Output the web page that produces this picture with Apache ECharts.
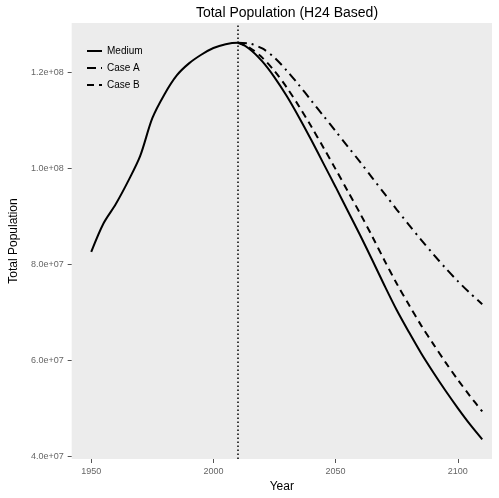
<!DOCTYPE html>
<html>
<head>
<meta charset="utf-8">
<script src="https://cdn.jsdelivr.net/npm/echarts@6/dist/echarts.min.js"></script>
<style>
  html, body { margin: 0; padding: 0; background: #fff; }
  #chart { width: 499px; height: 498px; }
</style>
</head>
<body>
<div id="chart"></div>
<script>
// years, 5-year steps
const histYears = [1950, 1955, 1960, 1965, 1970, 1975, 1980, 1985, 1990, 1995, 2000, 2005, 2010]
const projYears = [2010, 2015, 2020, 2025, 2030, 2035, 2040, 2045, 2050, 2055, 2060,
  2065, 2070, 2075, 2080, 2085, 2090, 2095, 2100, 2105, 2110]

// population, millions
const histPop = [82.6, 88.5, 92.5, 97.2, 102.5, 110.4, 115.4, 119.3, 121.8, 123.6, 125.0, 125.8, 126.1]
const mediumPop = [126.1, 124.7, 122.2, 118.9, 115.0, 110.6, 105.9, 101.0, 96.1, 91.1, 86.1,
  80.9, 75.6, 70.5, 65.9, 61.5, 57.5, 53.7, 50.1, 46.7, 43.6]
const caseAPop = [126.1, 125.9, 124.9, 123.0, 120.3, 117.3, 114.1, 110.9, 107.7, 104.5, 101.3,
  98.0, 94.7, 91.4, 88.2, 85.1, 82.1, 79.2, 76.5, 74.0, 71.7]
const caseBPop = [126.1, 125.0, 123.0, 120.2, 116.8, 112.9, 108.7, 104.3, 99.8, 95.2, 90.6,
  85.8, 80.8, 76.0, 71.6, 67.3, 63.4, 59.6, 56.0, 52.6, 49.4]

const yTicks = [4e7, 6e7, 8e7, 1e8, 1.2e8]
const xTicks = [1950, 2000, 2050, 2100]
const baseYear = 2010

const toPairs = (years, vals) => years.map((y, i) => [y, vals[i] * 1e6])
const mediumData = toPairs(histYears, histPop).concat(toPairs(projYears, mediumPop).slice(1))

const chart = echarts.init(document.getElementById('chart'))

const font = 'Liberation Sans, Arial, sans-serif'

chart.setOption({
  animation: false,
  title: {
    text: 'Total Population (H24 Based)',
    left: 282,
    textAlign: 'center',
    top: 1,
    textStyle: { fontFamily: font, fontSize: 14, fontWeight: 'normal', color: '#000' }
  },
  legend: {
    orient: 'vertical',
    left: 81,
    top: 41,
    itemWidth: 15,
    itemHeight: 10,
    itemGap: 7,
    data: ['Medium', 'Case A', 'Case B'],
    itemStyle: { opacity: 0 },
    textStyle: { fontFamily: font, fontSize: 10, color: '#000' }
  },
  grid: {
    left: 69,
    right: 7,
    top: 23,
    bottom: 32,
    containLabel: false,
    show: true,
    backgroundColor: '#ececec',
    borderWidth: 0
  },
  xAxis: {
    type: 'value',
    min: 1942,
    max: 2114,
    name: 'Year',
    nameLocation: 'middle',
    nameGap: 22,
    nameTextStyle: { fontFamily: font, fontSize: 12, color: '#000' },
    axisLine: { show: false },
    axisTick: { show: true, length: 4, customValues: xTicks, lineStyle: { color: '#555' } },
    axisLabel: {
      customValues: xTicks,
      margin: 8,
      fontFamily: font,
      fontSize: 9,
      color: '#666',
      formatter: v => String(v)
    },
    splitLine: { show: false }
  },
  yAxis: {
    type: 'value',
    min: 3.95e7,
    max: 1.302e8,
    name: 'Total Population',
    nameLocation: 'middle',
    nameGap: 48,
    nameTextStyle: { fontFamily: font, fontSize: 12, color: '#000' },
    axisLine: { show: false },
    axisTick: { show: true, length: 4, customValues: yTicks, lineStyle: { color: '#555' } },
    axisLabel: {
      customValues: yTicks,
      margin: 8,
      fontFamily: font,
      fontSize: 9,
      color: '#666',
      formatter: v => v.toExponential(1).replace(/e([+-])(\d)$/, 'e$10$2')
    },
    splitLine: { show: false }
  },
  series: [
    {
      name: 'Medium',
      type: 'line',
      data: mediumData,
      symbol: 'none',
      smooth: 0.3,
      lineStyle: { color: '#000', width: 2, type: 'solid' },
      itemStyle: { color: '#000' },
      markLine: {
        silent: true,
        symbol: 'none',
        label: { show: false },
        lineStyle: { color: '#000', width: 1.5, type: [1.5, 2.5] },
        data: [{ xAxis: baseYear }]
      },
      z: 3
    },
    {
      name: 'Case A',
      type: 'line',
      data: toPairs(projYears, caseAPop),
      symbol: 'none',
      smooth: 0.3,
      lineStyle: { color: '#000', width: 2, type: [9, 5, 2, 5] },
      itemStyle: { color: '#000' }
    },
    {
      name: 'Case B',
      type: 'line',
      data: toPairs(projYears, caseBPop),
      symbol: 'none',
      smooth: 0.3,
      lineStyle: { color: '#000', width: 2, type: [7, 5] },
      itemStyle: { color: '#000' }
    }
  ]
})
</script>
</body>
</html>
